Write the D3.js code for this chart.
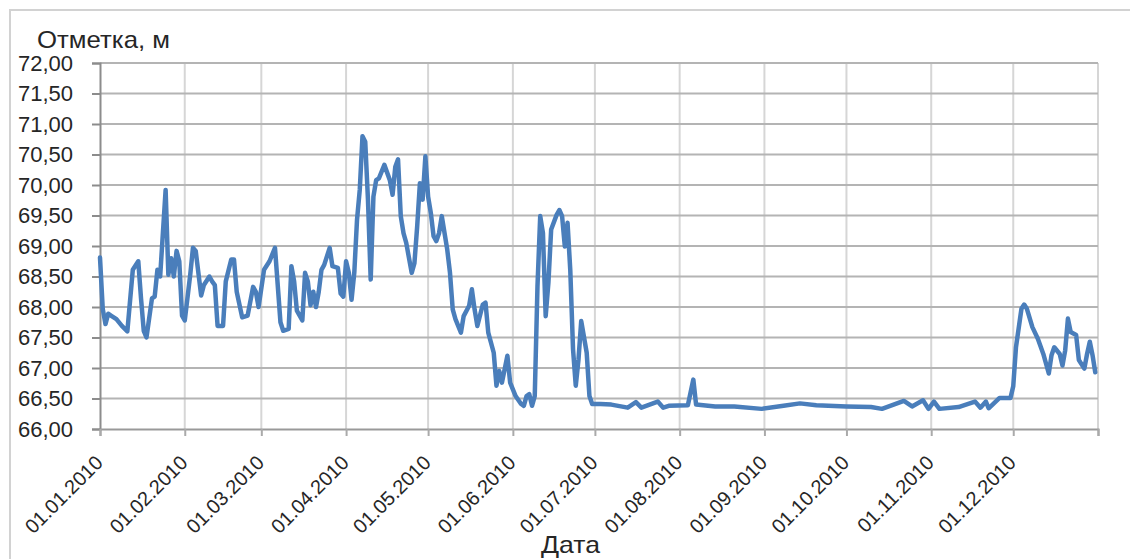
<!DOCTYPE html>
<html>
<head>
<meta charset="utf-8">
<script src="https://cdn.jsdelivr.net/npm/d3@7"></script>
<style>
  html, body { margin: 0; padding: 0; background: #fff; }
  svg { display: block; font-family: "Liberation Sans", Arial, sans-serif; }
</style>
</head>
<body>
<div id="chart"></div>
<script>
// water level readings, 2010 (dd.mm)
const dates = [
  '01.01','02.01','03.01','04.01','05.01','07.01','09.01','11.01','13.01','15.01',
  '16.01','17.01','18.01','20.01','21.01','22.01','23.01','25.01','26.01','27.01',
  '28.01','29.01','30.01','31.01','01.02','03.02','04.02','05.02','07.02','08.02',
  '10.02','11.02','12.02','13.02','15.02','16.02','18.02','19.02','20.02','22.02',
  '24.02','26.02','27.02','28.02','02.03','04.03','06.03','08.03','09.03','11.03',
  '12.03','13.03','14.03','16.03','17.03','18.03','19.03','20.03','21.03','22.03',
  '23.03','24.03','26.03','27.03','29.03','30.03','31.03','01.04','02.04','03.04',
  '04.04','05.04','06.04','07.04','08.04','09.04','10.04','11.04','12.04','13.04',
  '14.04','15.04','17.04','18.04','19.04','20.04','21.04','22.04','23.04','25.04',
  '26.04','27.04','28.04','29.04','30.04','01.05','02.05','03.05','04.05','05.05',
  '06.05','08.05','09.05','10.05','11.05','13.05','14.05','16.05','17.05','18.05',
  '19.05','21.05','22.05','23.05','25.05','26.05','27.05','28.05','30.05','31.05',
  '02.06','04.06','05.06','06.06','07.06','08.06','09.06','10.06','11.06','12.06',
  '13.06','14.06','15.06','17.06','18.06','19.06','20.06','21.06','22.06','23.06',
  '24.06','25.06','26.06','28.06','29.06','30.06','03.07','07.07','13.07','16.07',
  '18.07','24.07','26.07','28.07','04.08','06.08','07.08','14.08','21.08','31.08',
  '08.09','14.09','20.09','01.10','10.10','14.10','22.10','25.10','29.10','31.10',
  '02.11','04.11','11.11','17.11','19.11','21.11','22.11','26.11','30.11','01.12',
  '02.12','04.12','05.12','06.12','08.12','10.12','12.12','14.12','15.12','16.12',
  '18.12','19.12','20.12','21.12','22.12','24.12','25.12','27.12','28.12','29.12',
  '30.12','31.12'
]
const levels = [
  68.81,67.97,67.72,67.89,67.86,67.80,67.69,67.60,68.61,68.75,
  68.14,67.61,67.50,68.14,68.17,68.61,68.50,69.92,68.53,68.80,
  68.50,68.92,68.75,67.86,67.78,68.53,68.97,68.92,68.19,68.36,
  68.50,68.42,68.36,67.69,67.69,68.42,68.78,68.78,68.25,67.83,
  67.86,68.33,68.25,68.00,68.61,68.75,68.97,67.75,67.61,67.64,
  68.67,68.42,67.94,67.78,68.56,68.42,68.03,68.25,68.00,68.25,
  68.61,68.69,68.97,68.67,68.64,68.22,68.17,68.75,68.56,68.12,
  68.56,69.43,69.92,70.80,70.71,69.76,68.45,69.81,70.08,70.11,
  70.22,70.33,70.08,69.84,70.30,70.42,69.49,69.21,69.05,68.56,
  68.72,69.32,70.03,69.76,70.47,69.81,69.54,69.16,69.08,69.21,
  69.49,68.94,68.56,67.96,67.80,67.58,67.85,68.02,68.29,67.96,
  67.69,68.04,68.07,67.58,67.25,66.71,66.95,66.76,67.20,66.76,
  66.54,66.41,66.38,66.54,66.57,66.38,66.54,68.34,69.49,69.21,
  67.85,68.40,69.27,69.51,69.59,69.49,68.99,69.38,68.60,67.31,
  66.71,67.14,67.77,67.25,66.54,66.41,66.41,66.40,66.35,66.44,
  66.35,66.45,66.35,66.38,66.39,66.81,66.40,66.37,66.37,66.33,
  66.38,66.42,66.39,66.37,66.36,66.33,66.46,66.37,66.47,66.33,
  66.45,66.33,66.36,66.45,66.35,66.45,66.34,66.51,66.51,66.70,
  67.34,67.97,68.04,67.97,67.67,67.48,67.23,66.91,67.21,67.34,
  67.23,67.04,67.29,67.81,67.59,67.54,67.13,66.99,67.23,67.43,
  67.21,66.93
]
const yTicks = [66, 66.5, 67, 67.5, 68, 68.5, 69, 69.5, 70, 70.5, 71, 71.5, 72]
const yTitle = 'Отметка, м'
const xTitle = 'Дата'

const W = 1130, H = 559
const ink = '#262626'
const parse = d3.timeParse('%d.%m.%Y')
const data = dates.map((d, i) => ({ date: parse(d + '.2010'), v: levels[i] }))

const svg = d3.select('#chart').append('svg').attr('width', W).attr('height', H)

// outer chart border
svg.append('rect')
  .attr('x', 10).attr('y', 10).attr('width', W + 20).attr('height', H + 20)
  .attr('fill', 'none').attr('stroke', '#d2d2d2').attr('stroke-width', 2)

const start = new Date(2010, 0, 1), end = new Date(2011, 0, 1)
const x = d3.scaleTime().domain([start, end]).range([100, 1098])
const y = d3.scaleLinear().domain([66, 72]).range([429, 63])
const months = d3.timeMonth.range(start, d3.timeDay.offset(end, 1))

// vertical grid
svg.append('g').selectAll('line').data(months.slice(1)).join('line')
  .attr('x1', d => x(d)).attr('x2', d => x(d))
  .attr('y1', y(72)).attr('y2', y(66))
  .attr('stroke', '#d6d6d6').attr('stroke-width', 2)

// horizontal grid
svg.append('g').selectAll('line').data(yTicks.slice(1)).join('line')
  .attr('x1', x(start)).attr('x2', x(end))
  .attr('y1', d => y(d)).attr('y2', d => y(d))
  .attr('stroke', '#b4b4b4').attr('stroke-width', 2)

// y axis
const yAxis = svg.append('g').attr('transform', `translate(${x(start)},0)`)
  .call(d3.axisLeft(y).tickValues(yTicks).tickSize(8).tickPadding(19)
    .tickFormat(d => d3.format('.2f')(d).replace('.', ',')))
yAxis.select('.domain').attr('stroke', '#8c8c8c').attr('stroke-width', 2)
yAxis.selectAll('.tick line').attr('stroke', '#8c8c8c').attr('stroke-width', 2)
yAxis.selectAll('text').attr('font-size', 22).attr('fill', ink)
  .attr('font-family', '"Liberation Sans", Arial, sans-serif')

// x axis
const xAxis = svg.append('g').attr('transform', `translate(0,${y(66)})`)
  .call(d3.axisBottom(x).tickValues(months).tickSize(7).tickFormat(''))
xAxis.select('.domain').attr('stroke', '#999').attr('stroke-width', 2)
xAxis.selectAll('.tick line').attr('stroke', '#aaa').attr('stroke-width', 2)

const fmt = d3.timeFormat('%d.%m.%Y')
svg.append('g').selectAll('text').data(months.slice(0, 12)).join('text')
  .attr('transform', d => `translate(${x(d) + 4},${y(66) + 35}) rotate(-45)`)
  .attr('text-anchor', 'end')
  .attr('font-size', 20).attr('fill', ink)
  .text(d => fmt(d))

// line
svg.append('path').datum(data)
  .attr('fill', 'none').attr('stroke', '#4a7ebb').attr('stroke-width', 4.5)
  .attr('stroke-linejoin', 'round').attr('stroke-linecap', 'round')
  .attr('d', d3.line().x(d => x(d.date)).y(d => y(d.v)))

// titles
svg.append('text').attr('x', 37).attr('y', 48)
  .attr('font-size', 24).attr('fill', ink)
  .attr('textLength', 133).attr('lengthAdjust', 'spacingAndGlyphs').text(yTitle)
svg.append('text').attr('x', 541).attr('y', 553)
  .attr('font-size', 24).attr('fill', ink)
  .attr('textLength', 59).attr('lengthAdjust', 'spacingAndGlyphs').text(xTitle)
</script>
</body>
</html>
